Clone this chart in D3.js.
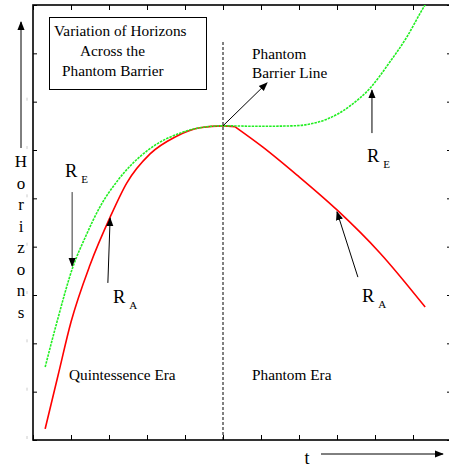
<!DOCTYPE html>
<html>
<head>
<meta charset="utf-8">
<script src="https://cdn.jsdelivr.net/npm/d3@7"></script>
<style>
  body { margin: 0; background: #fff; }
  svg text { font-family: "Liberation Serif", "Times New Roman", serif; fill: #000; }
</style>
</head>
<body>
<div id="chart"></div>
<script>
// horizon curves (t, horizon size in tick units)
var raT = [0.32, 0.66, 1.00, 1.50, 2.03, 2.47, 3.08, 3.74, 4.39, 5.0, 5.32, 6.05, 6.95, 8.00, 9.13, 10.32];
var raV = [0.23, 1.34, 2.44, 3.62, 4.61, 5.32, 5.92, 6.27, 6.46, 6.50, 6.48, 6.06, 5.48, 4.76, 3.87, 2.75];
var reT = [0.32, 0.63, 1.05, 1.39, 1.76, 2.24, 3.03, 3.95, 4.39, 5.0, 5.97, 6.84, 7.74, 8.34, 8.87, 9.39, 9.84, 10.24, 10.45];
var reV = [1.51, 2.44, 3.58, 4.22, 4.82, 5.38, 6.00, 6.37, 6.46, 6.50, 6.49, 6.50, 6.64, 6.91, 7.28, 7.82, 8.34, 8.90, 9.17];

var tTicks = d3.range(0, 12);
var hTicks = d3.range(0, 10);
var barrierT = 5;
var yLetters = "Horizons".split("");
var titleLines = ["Variation of Horizons", "Across the", "Phantom Barrier"];

const W = 449, H = 468;
var svg = d3.select("#chart").append("svg").attr("width", W).attr("height", H);

var x = d3.scaleLinear().domain([0, 11]).range([33, 451]);
var y = d3.scaleLinear().domain([0, 9]).range([440, 5]);

var defs = svg.append("defs");
defs.append("clipPath").attr("id", "plotclip")
  .append("rect").attr("x", 33).attr("y", 5).attr("width", 418).attr("height", 435);
defs.append("marker").attr("id", "head")
  .attr("viewBox", "0 0 10 10").attr("refX", 9).attr("refY", 5)
  .attr("markerWidth", 9).attr("markerHeight", 9).attr("markerUnits", "userSpaceOnUse")
  .attr("orient", "auto")
  .append("path").attr("d", "M0,1 L10,5 L0,9 Z").attr("fill", "#000");

// ticks on all four sides, pointing in
var tickStyle = function (g) {
  g.select(".domain").remove();
  g.selectAll(".tick line").attr("stroke", "#000").attr("stroke-width", 1);
};
svg.append("g").attr("transform", "translate(0,440)")
  .call(d3.axisBottom(x).tickValues(tTicks).tickSize(-5).tickFormat("")).call(tickStyle);
svg.append("g").attr("transform", "translate(0,5)")
  .call(d3.axisTop(x).tickValues(tTicks).tickSize(-5).tickFormat("")).call(tickStyle);
svg.append("g").attr("transform", "translate(33,0)")
  .call(d3.axisLeft(y).tickValues(hTicks).tickSize(-4).tickFormat("")).call(tickStyle);
svg.append("g").attr("transform", "translate(451,0)")
  .call(d3.axisRight(y).tickValues(hTicks).tickSize(-4).tickFormat("")).call(tickStyle);

// faint marks just left of the axis
svg.append("g").selectAll("line").data(hTicks.slice(0, 8)).join("line")
  .attr("x1", 27).attr("x2", 27)
  .attr("y1", d => y(d) - 4).attr("y2", d => y(d) - 1)
  .attr("stroke", "#ccc");

// frame
svg.append("rect").attr("x", 33).attr("y", 5).attr("width", 418).attr("height", 435)
  .attr("fill", "none").attr("stroke", "#000").attr("stroke-width", 1.6);

// phantom barrier
svg.append("line")
  .attr("x1", x(barrierT)).attr("x2", x(barrierT))
  .attr("y1", 42).attr("y2", 440)
  .attr("stroke", "#000").attr("stroke-width", 1).attr("stroke-dasharray", "3,2");

var line = d3.line().x(d => x(d[0])).y(d => y(d[1])).curve(d3.curveMonotoneX);
var plot = svg.append("g").attr("clip-path", "url(#plotclip)");
var ra = d3.zip(raT, raV);
var cut = raT.indexOf(5.32);
// the apparent horizon has a corner just past the barrier
plot.append("path").datum(ra.slice(0, cut + 1)).attr("d", line)
  .attr("fill", "none").attr("stroke", "#ff0000").attr("stroke-width", 1.6);
plot.append("path").datum(ra.slice(cut)).attr("d", line)
  .attr("fill", "none").attr("stroke", "#ff0000").attr("stroke-width", 1.6);
plot.append("path").datum(d3.zip(reT, reV)).attr("d", line)
  .attr("fill", "none").attr("stroke", "#22ee22").attr("stroke-width", 1.6)
  .attr("stroke-dasharray", "2.5,1");

// arrows
var arrow = function (x1, y1, x2, y2, col) {
  svg.append("line").attr("x1", x1).attr("y1", y1).attr("x2", x2).attr("y2", y2)
    .attr("stroke", col || "#000").attr("stroke-width", 1).attr("marker-end", "url(#head)");
};
arrow(x(5.0), y(6.5), x(6.16), y(7.39));   // barrier line
arrow(x(1.03), y(5.13), x(1.03), y(3.60), "#333"); // R_E left
arrow(x(1.97), y(3.25), x(2.03), y(4.59)); // R_A left
arrow(x(8.92), y(6.35), x(8.92), y(7.24)); // R_E right
arrow(x(8.55), y(3.37), x(8.0), y(4.72));  // R_A right
arrow(21, 148, 21, 22);
arrow(321, 454, 443, 454);

// title box
svg.append("rect").attr("x", 49.5).attr("y", 17.5).attr("width", 157).attr("height", 72)
  .attr("fill", "none").attr("stroke", "#000").attr("stroke-width", 1);
var titleX = [54, 80, 62], titleY = [36, 56, 76];
svg.append("g").selectAll("text").data(titleLines).join("text")
  .attr("x", (d, i) => titleX[i]).attr("y", (d, i) => titleY[i])
  .attr("font-size", 15.3).text(d => d);

var label = function (tx, ty, s, size) {
  svg.append("text").attr("x", tx).attr("y", ty).attr("font-size", size || 15.3).text(s);
};
label(252, 59, "Phantom");
label(252, 78, "Barrier Line");
label(69, 380, "Quintessence Era");
label(252, 380, "Phantom Era");

var rlabel = function (tx, ty, sub) {
  var t = svg.append("text").attr("x", tx).attr("y", ty).attr("font-size", 18.5);
  t.append("tspan").text("R");
  t.append("tspan").attr("dx", 4).attr("dy", 6).attr("font-size", 11).text(sub);
};
rlabel(65, 177, "E");
rlabel(113, 303, "A");
rlabel(367, 162, "E");
rlabel(362, 302, "A");

// axis titles
svg.append("g").selectAll("text").data(yLetters).join("text")
  .attr("x", 21).attr("y", (d, i) => 167 + i * 21.5)
  .attr("text-anchor", "middle").attr("font-size", 17).text(d => d);
svg.append("text").attr("x", 307).attr("y", 464)
  .attr("text-anchor", "middle").attr("font-size", 18).text("t");
</script>
</body>
</html>
